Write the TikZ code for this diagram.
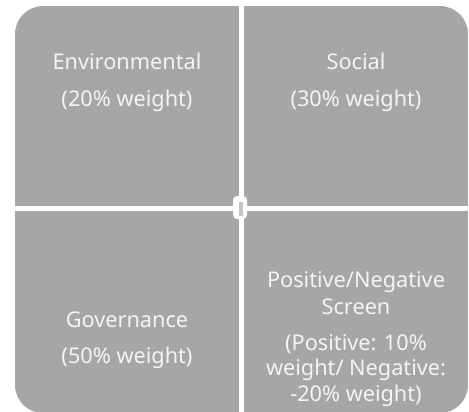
\documentclass[tikz,border=0pt]{standalone}
\usepackage{fontspec}
\setmainfont{Noto Sans}
\definecolor{tile}{HTML}{A6A6A6}
\definecolor{tiletext}{HTML}{F4F4F4}
\definecolor{knob}{HTML}{C4C4C4}
\begin{document}
\begin{tikzpicture}[x=1bp,y=-1bp,
  tilefill/.style={fill=tile},
  label/.style={anchor=base,text=tiletext,inner sep=0pt,
    font=\fontsize{21.7bp}{26bp}\selectfont}]
  \useasboundingbox (0,0) rectangle (469,411);
  % four tiles, clipped to one rounded outline
  \begin{scope}
    \clip[rounded corners=28bp] (15,6) rectangle (468,413);
    \fill[tilefill] (15,6) rectangle (239,206);
    \fill[tilefill] (244,6) rectangle (468,206);
    \fill[tilefill] (15,211) rectangle (239,413);
    \fill[tilefill] (244,211) rectangle (468,413);
  \end{scope}
  % centre knob
  \fill[white,rounded corners=4bp] (233,196) rectangle (247,219);
  \fill[knob] (239,202) rectangle (243,216);
  % texts
  \node[label] (env) at (127,69.3) {Environmental};
  \node[label] (envw) at (127,106) {(20\% weight)};
  \node[label] (soc) at (356,69.3) {Social};
  \node[label] (socw) at (356,106) {(30\% weight)};
  \node[label] (gov) at (127,327.7) {Governance};
  \node[label] (govw) at (127,363.3) {(50\% weight)};
  \node[label] (pn1) at (356,287.7) {Positive/Negative};
  \node[label] (pn2) at (356,314) {Screen};
  \node[label] (pn3) at (356,350) {(Positive: 10\%};
  \node[label] (pn4) at (356,375.7) {weight/ Negative:};
  \node[label] (pn5) at (356,401.7) {-20\% weight)};
\end{tikzpicture}
\end{document}
